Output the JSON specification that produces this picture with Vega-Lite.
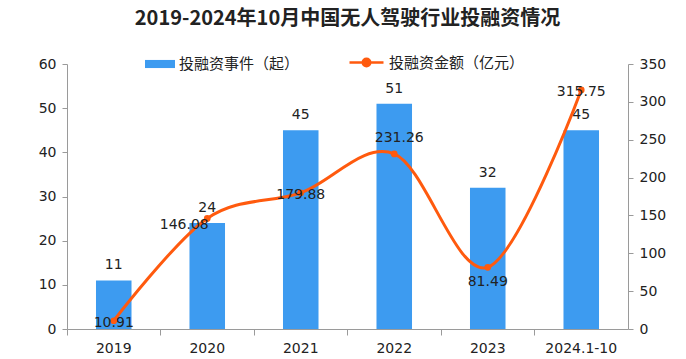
{
  "$schema": "https://vega.github.io/schema/vega-lite/v6.json",
  "width": 686,
  "height": 359,
  "autosize": {"type": "fit", "contains": "padding"},
  "padding": {"left": 38, "right": 20, "top": 9, "bottom": 4},
  "background": "white",
  "config": {"view": {"stroke": null}, "font": "Noto Sans CJK SC"},
  "title": {"text": "2019-2024年10月中国无人驾驶行业投融资情况", "fontSize": 20, "fontWeight": "bold", "color": "#222222", "anchor": "middle", "offset": 28, "font": "Noto Sans CJK SC"},
  "data": {"values": [
    {"year": "2019", "events": 11, "amount": 10.91},
    {"year": "2020", "events": 24, "amount": 146.08},
    {"year": "2021", "events": 45, "amount": 179.88},
    {"year": "2022", "events": 51, "amount": 231.26},
    {"year": "2023", "events": 32, "amount": 81.49},
    {"year": "2024.1-10", "events": 45, "amount": 315.75}
  ]},
  "encoding": {
    "x": {"field": "year", "type": "nominal", "sort": null,
      "scale": {"paddingInner": 0, "paddingOuter": 0},
      "axis": {"title": null, "labelAngle": 0, "bandPosition": 0, "tickSize": 6, "domainColor": "#9a9a9a", "tickColor": "#9a9a9a", "labelFont": "DejaVu Sans", "labelFontSize": 14, "labelColor": "#222222", "labelPadding": 6}}
  },
  "layer": [
    {
      "encoding": {
        "y": {"field": "events", "type": "quantitative", "scale": {"domain": [0, 60]},
          "axis": {"orient": "left", "title": null, "grid": false, "values": [0, 10, 20, 30, 40, 50, 60], "domainColor": "#9a9a9a", "tickColor": "#9a9a9a", "tickSize": 5, "labelFont": "DejaVu Sans", "labelFontSize": 14, "labelColor": "#222222", "labelPadding": 6}}
      },
      "layer": [
        {
          "mark": {"type": "bar", "width": {"band": 0.38}},
          "encoding": {
            "fill": {"datum": "投融资事件（起）", "type": "nominal",
              "scale": {"range": ["#3D9BF0"]},
              "legend": {"orient": "none", "legendX": 78, "legendY": -15, "title": null, "padding": 0,
                "symbolType": "M-1,-0.27H1V0.27H-1Z", "symbolSize": 900, "symbolStrokeWidth": 0,
                "labelFont": "Noto Sans CJK SC", "labelFontSize": 15, "labelColor": "#222222", "labelOffset": 4}}
          }
        },
        {
          "mark": {"type": "text", "baseline": "bottom", "dy": -8, "font": "DejaVu Sans", "fontSize": 14, "color": "#222222"},
          "encoding": {"text": {"field": "events", "type": "quantitative"}}
        }
      ]
    },
    {
      "encoding": {
        "y": {"field": "amount", "type": "quantitative", "scale": {"domain": [0, 350]},
          "axis": {"orient": "right", "title": null, "grid": false, "values": [0, 50, 100, 150, 200, 250, 300, 350], "domainColor": "#9a9a9a", "tickColor": "#9a9a9a", "tickSize": 5, "labelFont": "DejaVu Sans", "labelFontSize": 14, "labelColor": "#222222", "labelPadding": 6}}
      },
      "layer": [
        {
          "mark": {"type": "line", "interpolate": "cardinal", "strokeWidth": 3},
          "encoding": {
            "stroke": {"datum": "投融资金额（亿元）", "type": "nominal",
              "scale": {"range": ["#FF5A0E"]},
              "legend": {"orient": "none", "legendX": 281, "legendY": -20, "title": null, "padding": 0,
                "symbolType": "M-1,0H1M0.22,0A0.22,0.22,0,1,1,-0.22,0A0.22,0.22,0,1,1,0.22,0", "symbolSize": 1156, "symbolStrokeWidth": 2.5, "symbolFillColor": "#FF5A0E",
                "labelFont": "Noto Sans CJK SC", "labelFontSize": 15, "labelColor": "#222222", "labelOffset": 4}}
          }
        },
        {
          "mark": {"type": "point", "filled": true, "size": 45, "color": "#FF5A0E", "opacity": 1}
        },
        {
          "transform": [{"filter": "datum.year == '2019' || datum.year == '2021' || datum.year == '2024.1-10'"}],
          "mark": {"type": "text", "baseline": "middle", "dy": 2, "font": "DejaVu Sans", "fontSize": 14, "color": "#222222"},
          "encoding": {"text": {"field": "amount", "type": "quantitative", "format": ".2f"}}
        },
        {
          "transform": [{"filter": "datum.year == '2022'"}],
          "mark": {"type": "text", "baseline": "middle", "dx": 5, "dy": -16, "font": "DejaVu Sans", "fontSize": 14, "color": "#222222"},
          "encoding": {"text": {"field": "amount", "type": "quantitative", "format": ".2f"}}
        },
        {
          "transform": [{"filter": "datum.year == '2023'"}],
          "mark": {"type": "text", "baseline": "middle", "dy": 15, "font": "DejaVu Sans", "fontSize": 14, "color": "#222222"},
          "encoding": {"text": {"field": "amount", "type": "quantitative", "format": ".2f"}}
        },
        {
          "transform": [{"filter": "datum.year == '2020'"}],
          "mark": {"type": "text", "baseline": "middle", "dx": -23, "dy": 7, "font": "DejaVu Sans", "fontSize": 14, "color": "#222222"},
          "encoding": {"text": {"field": "amount", "type": "quantitative", "format": ".2f"}}
        }
      ]
    }
  ],
  "resolve": {"scale": {"y": "independent", "fill": "independent", "stroke": "independent"}}
}
